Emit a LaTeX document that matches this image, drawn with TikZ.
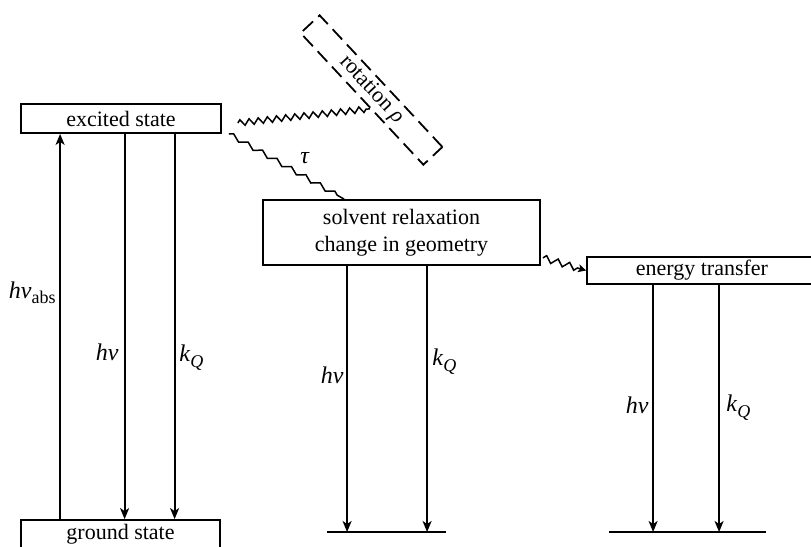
\documentclass[tikz,border=0pt]{standalone}
\usepackage{fontspec}
\setmainfont{Liberation Serif}
\usetikzlibrary{arrows.meta,decorations.pathmorphing,calc}
\newcommand{\myKQ}{\textit{k}\raisebox{-0.55ex}{\small\itshape Q}}
\begin{document}
\begin{tikzpicture}[x=0.5pt,y=-0.5pt,
  font=\fontsize{11}{13.5}\selectfont,
  box/.style={draw,line width=0.9pt,inner sep=0pt,align=center},
  arr/.style={line width=0.9pt,-{Stealth[length=5.5pt,width=4.5pt,inset=1.5pt]}},
  level/.style={inner sep=0pt,minimum height=0pt},
  levline/.style={line width=1.2pt},
  wig/.style={line width=0.75pt,decorate,decoration={zigzag,segment length=4.6pt,amplitude=1.5pt}},
  stair/.style={line width=0.75pt,decorate,decoration={zigzag,segment length=8.3pt,amplitude=1.2pt}},
  wigarr/.style={line width=0.75pt,decorate,decoration={zigzag,segment length=6pt,amplitude=1.6pt,post=lineto,post length=3pt},-{Stealth[length=4pt,width=4pt,inset=1pt]}},
  lab/.style={inner sep=0pt,font=\fontsize{12}{14}\selectfont}
]
\useasboundingbox (0,0) rectangle (811,547);
\clip (0,0) rectangle (811,547);

% boxes
\node[box,minimum width=100pt,minimum height=14.5pt] (exc) at (121,118.5) {excited state};
\node[box,minimum width=99.5pt,minimum height=14.5pt] (gnd) at (120.5,534.5) {ground state};
\node[box,minimum width=138.5pt,minimum height=32.5pt] (solv) at (401.5,232.5) {solvent relaxation\\change in geometry};
\node[box,minimum width=115pt,minimum height=13.5pt] (et) at (702,270.5) {energy transfer};
\node[box,dashed,dash pattern=on 7pt off 3.5pt,minimum width=90pt,minimum height=13pt,rotate=-47] (rot) at (371.5,90) {rotation \textit{ρ}};

% levels
\node[level,minimum width=59.5pt] (mlev) at (386.5,532) {};
\draw[levline] (mlev.west) -- (mlev.east);
\node[level,minimum width=78.5pt] (rlev) at (687.5,532) {};
\draw[levline] (rlev.west) -- (rlev.east);

% left column arrows
\path ([xshift=20pt]gnd.north west) coordinate (a1);
\draw[arr] (a1) -- (a1 |- exc.south);
\path ([xshift=52.25pt]exc.south west) coordinate (a2);
\draw[arr] (a2) -- (a2 |- gnd.north);
\path ([xshift=77.25pt]exc.south west) coordinate (a3);
\draw[arr] (a3) -- (a3 |- gnd.north);

% middle column arrows
\path ([xshift=42.5pt]solv.south west) coordinate (b1);
\draw[arr] (b1) -- (b1 |- mlev.center);
\path ([xshift=82.5pt]solv.south west) coordinate (b2);
\draw[arr] (b2) -- (b2 |- mlev.center);

% right column arrows
\path ([xshift=33.5pt]et.south west) coordinate (c1);
\draw[arr] (c1) -- (c1 |- rlev.center);
\path ([xshift=66.5pt]et.south west) coordinate (c2);
\draw[arr] (c2) -- (c2 |- rlev.center);

% labels
\node[lab,anchor=east] (lhabs) at (56,293) {\textit{hν}\raisebox{-0.45ex}{\small abs}};
\node[lab,anchor=east] (lhv) at (119,352) {\textit{hν}};
\node[lab,anchor=west] (lkq) at (179,358) {\myKQ};
\node[lab,anchor=east] (mhv) at (344,375) {\textit{hν}};
\node[lab,anchor=west] (mkq) at (432,362) {\myKQ};
\node[lab,anchor=east] (rhv) at (649,405) {\textit{hν}};
\node[lab,anchor=west] (rkq) at (726,408) {\myKQ};
\node[lab] (tau) at (305,158) {\textit{τ}};

% wavy connectors
\draw[wig] ([shift={(8pt,-2.25pt)}]exc.east) -- ($(rot.south west)!0.57!(rot.south east)$);
\draw[stair] ([xshift=3.5pt]exc.south east) -- ([xshift=41pt]solv.north west);
\draw[wigarr] ([shift={(1pt,4pt)}]solv.south east) -- (et.west);
\end{tikzpicture}
\end{document}
